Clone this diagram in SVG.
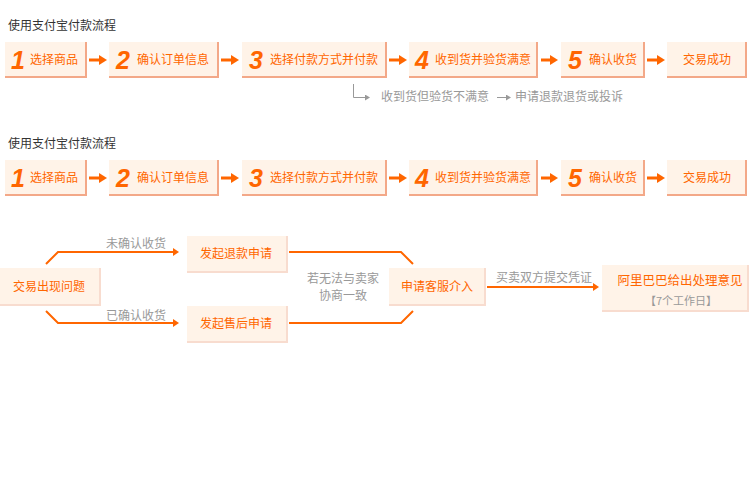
<svg xmlns="http://www.w3.org/2000/svg" width="750" height="500" viewBox="0 0 750 500">
<style>
text{font-family:"Noto Sans CJK SC","Liberation Sans",sans-serif;font-size:12px}
.title{fill:#333}
.o{fill:#ff6600}
.g{fill:#999}
.num{font-family:"Liberation Sans",Arial,sans-serif;font-size:25px;font-weight:bold;font-style:italic;fill:#ff6600}
.box{fill:#fff3e8}
.bd{stroke:#f3a888;stroke-width:2;fill:none}
.bd2{stroke:#f8dccf;stroke-width:2;fill:none}
.arr{stroke:#ff6600;stroke-width:3;fill:none;marker-end:url(#ah)}
.ln{stroke:#ff6600;stroke-width:2;fill:none}
.arr2{stroke:#ff6600;stroke-width:2;fill:none;marker-end:url(#ah2)}
.garr{stroke:#999;stroke-width:1;fill:none;marker-end:url(#ah3)}
.c{text-anchor:middle}
</style>
<defs>
<marker id="ah" viewBox="0 0 8 10" refX="2" refY="5" markerWidth="8" markerHeight="10" markerUnits="userSpaceOnUse" orient="auto"><path d="M0,0 L8,5 L0,10z" fill="#ff6600"/></marker>
<marker id="ah2" viewBox="0 0 6 8" refX="1" refY="4" markerWidth="6" markerHeight="8" markerUnits="userSpaceOnUse" orient="auto"><path d="M0,0 L6,4 L0,8z" fill="#ff6600"/></marker>
<marker id="ah3" viewBox="0 0 5 6" refX="1" refY="3" markerWidth="5" markerHeight="6" markerUnits="userSpaceOnUse" orient="auto"><path d="M0,0 L5,3 L0,6z" fill="#999"/></marker>
</defs>

<text class="title" x="8" y="30">使用支付宝付款流程</text>
<text class="title" x="8" y="148">使用支付宝付款流程</text>

<!-- Row 1 -->
<g id="r1n1"><rect class="box" x="5" y="42" width="82" height="36"/><path class="bd" d="M86,42 V77 H5"/><text class="num" x="11" y="69">1</text><text class="o" x="30" y="64">选择商品</text></g>
<g id="r1n2"><rect class="box" x="109" y="42" width="110" height="36"/><path class="bd" d="M218,42 V77 H109"/><text class="num" x="116" y="69">2</text><text class="o" x="137" y="64">确认订单信息</text></g>
<g id="r1n3"><rect class="box" x="242" y="42" width="145" height="36"/><path class="bd" d="M386,42 V77 H242"/><text class="num" x="249" y="69">3</text><text class="o" x="270" y="64">选择付款方式并付款</text></g>
<g id="r1n4"><rect class="box" x="409" y="42" width="129" height="36"/><path class="bd" d="M537,42 V77 H409"/><text class="num" x="415" y="69">4</text><text class="o" x="435" y="64">收到货并验货满意</text></g>
<g id="r1n5"><rect class="box" x="561" y="42" width="84" height="36"/><path class="bd" d="M644,42 V77 H561"/><text class="num" x="568" y="69">5</text><text class="o" x="589" y="64">确认收货</text></g>
<g id="r1n6"><rect class="box" x="667" y="42" width="80" height="36"/><path class="bd" d="M746,42 V77 H667"/><text class="o c" x="707" y="64">交易成功</text></g>
<text class="g" x="381" y="101">收到货但验货不满意</text>
<text class="g" x="515" y="101">申请退款退货或投诉</text>

<!-- Row 2 -->
<g id="r2n1"><rect class="box" x="5" y="160" width="82" height="36"/><path class="bd" d="M86,160 V195 H5"/><text class="num" x="11" y="187">1</text><text class="o" x="30" y="182">选择商品</text></g>
<g id="r2n2"><rect class="box" x="109" y="160" width="110" height="36"/><path class="bd" d="M218,160 V195 H109"/><text class="num" x="116" y="187">2</text><text class="o" x="137" y="182">确认订单信息</text></g>
<g id="r2n3"><rect class="box" x="242" y="160" width="145" height="36"/><path class="bd" d="M386,160 V195 H242"/><text class="num" x="249" y="187">3</text><text class="o" x="270" y="182">选择付款方式并付款</text></g>
<g id="r2n4"><rect class="box" x="409" y="160" width="129" height="36"/><path class="bd" d="M537,160 V195 H409"/><text class="num" x="415" y="187">4</text><text class="o" x="435" y="182">收到货并验货满意</text></g>
<g id="r2n5"><rect class="box" x="561" y="160" width="84" height="36"/><path class="bd" d="M644,160 V195 H561"/><text class="num" x="568" y="187">5</text><text class="o" x="589" y="182">确认收货</text></g>
<g id="r2n6"><rect class="box" x="667" y="160" width="80" height="36"/><path class="bd" d="M746,160 V195 H667"/><text class="o c" x="707" y="182">交易成功</text></g>

<!-- Bottom section -->
<g id="b1"><rect class="box" x="0" y="268" width="101" height="38"/><path class="bd2" d="M100,268 V305 H0"/><text class="o c" x="49" y="291">交易出现问题</text></g>
<g id="b2"><rect class="box" x="187" y="236" width="101" height="37"/><path class="bd2" d="M287,236 V272 H187"/><text class="o c" x="236" y="258">发起退款申请</text></g>
<g id="b3"><rect class="box" x="187" y="306" width="101" height="37"/><path class="bd2" d="M287,306 V342 H187"/><text class="o c" x="236" y="328">发起售后申请</text></g>
<g id="b4"><rect class="box" x="389" y="268" width="97" height="38"/><path class="bd2" d="M485,268 V305 H389"/><text class="o c" x="437" y="291">申请客服介入</text></g>
<g id="b5"><rect class="box" x="602" y="265" width="147" height="47"/><path class="bd2" d="M748,265 V311 H602"/><text class="o c" x="680" y="285" style="font-size:12.5px">阿里巴巴给出处理意见</text><text class="g c" x="681" y="305" style="font-size:11px">【7个工作日】</text></g>

<text class="g c" x="136" y="248">未确认收货</text>
<text class="g c" x="136" y="320">已确认收货</text>
<text class="g c" x="343" y="283">若无法与卖家</text>
<text class="g c" x="343" y="300">协商一致</text>
<text class="g c" x="544" y="282">买卖双方提交凭证</text>

<g id="connectors">
<line class="arr" x1="89" y1="60" x2="101" y2="60"/>
<line class="arr" x1="221" y1="60" x2="233" y2="60"/>
<line class="arr" x1="389" y1="60" x2="401" y2="60"/>
<line class="arr" x1="541" y1="60" x2="552" y2="60"/>
<line class="arr" x1="647" y1="60" x2="659" y2="60"/>
<line class="arr" x1="89" y1="178" x2="101" y2="178"/>
<line class="arr" x1="221" y1="178" x2="233" y2="178"/>
<line class="arr" x1="389" y1="178" x2="401" y2="178"/>
<line class="arr" x1="541" y1="178" x2="552" y2="178"/>
<line class="arr" x1="647" y1="178" x2="659" y2="178"/>
<path class="garr" d="M353.5,84 V97.5 H366"/>
<path class="garr" d="M497,97.5 H507"/>
<path class="arr2" d="M46,264 L58,252 H174"/>
<path class="arr2" d="M46,311 L58,323 H174"/>
<path class="ln" d="M289,252 H401 L413,264"/>
<path class="ln" d="M289,323 H401 L413,311"/>
<path class="arr2" d="M487,287 H594"/>
</g>
</svg>
